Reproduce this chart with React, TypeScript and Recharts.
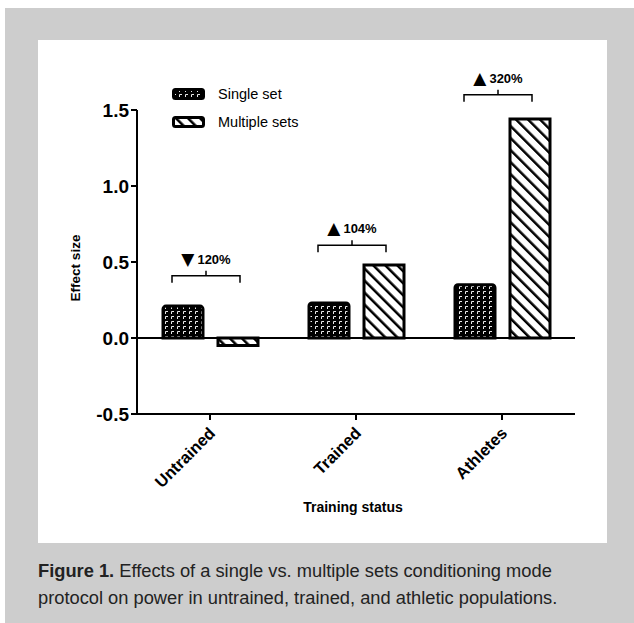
import React from 'react';
import { BarChart, Bar, XAxis, YAxis, ReferenceLine, ReferenceDot, Label } from 'recharts';

const categories = ['Untrained', 'Trained', 'Athletes'];
const singleSet = [0.21, 0.23, 0.35];
const multipleSets = [-0.05, 0.48, 1.44];
const seriesNames = ['Single set', 'Multiple sets'];
const yTicks = [-0.5, 0, 0.5, 1.0, 1.5];
const changeArrows = ['▼', '▲', '▲'];
const changeLabels = ['120%', '104%', '320%'];
const bracketLevels = [0.41, 0.61, 1.6];
const xAxisTitle = 'Training status';
const yAxisTitle = 'Effect size';
const captionBold = 'Figure 1.';
const captionLines = [
  ' Effects of a single vs. multiple sets conditioning mode',
  'protocol on power in untrained, trained, and athletic populations.',
];

const data = categories.map((c, i) => ({ category: c, single: singleSet[i], multiple: multipleSets[i] }));

const FONT = '"Liberation Sans", Arial, Helvetica, sans-serif';

const PatternDefs = ({ prefix }: { prefix: string }) => (
  <defs>
    <pattern id={`${prefix}-dots`} width={6} height={5} patternUnits="userSpaceOnUse">
      <rect width={6} height={5} fill="#000" />
      <path d="M1.5,4 V1.5 H4" stroke="#e8e8e8" strokeWidth={1} fill="none" />
    </pattern>
    <pattern id={`${prefix}-hatch`} width={8.5} height={8.5} patternUnits="userSpaceOnUse" patternTransform="rotate(-45)">
      <rect width={8.5} height={8.5} fill="#fff" />
      <line x1={0} y1={0} x2={0} y2={8.5} stroke="#000" strokeWidth={5} />
    </pattern>
  </defs>
);

const Bracket = ({ cx, cy, arrow, text }: any) => {
  if (cx == null || cy == null) return null;
  const x = cx - 4;
  return (
    <g>
      <path
        d={`M${x - 34},${cy + 7} V${cy} H${x + 34} V${cy + 7} M${x},${cy} V${cy - 5}`}
        stroke="#000"
        strokeWidth={1.5}
        fill="none"
      />
      <text
        x={x}
        y={cy - 17}
        textAnchor="middle"
        dominantBaseline="central"
        fontSize={13}
        fontWeight="bold"
        fontFamily={FONT}
        fill="#000"
      >
        <tspan fontSize={17} fontFamily='"DejaVu Sans", sans-serif'>{arrow}</tspan>
        <tspan dx={3}>{text}</tspan>
      </text>
    </g>
  );
};

const XTick = ({ x, y, payload }: any) => (
  <text
    x={x + 2}
    y={y + 8}
    transform={`rotate(-45, ${x + 2}, ${y + 8})`}
    textAnchor="end"
    dominantBaseline="central"
    fontSize={16.5}
    fontWeight="bold"
    fontFamily={FONT}
    fill="#000"
  >
    {payload.value}
  </text>
);

const LegendSwatch = ({ fill }: { fill: string }) => (
  <svg width={33} height={12} style={{ display: 'block' }}>
    <PatternDefs prefix="lg" />
    <rect x={1.5} y={1.5} width={30} height={9} rx={2} fill={fill} stroke="#000" strokeWidth={3} />
  </svg>
);

export default function App() {
  return (
    <div style={{ position: 'absolute', left: 0, top: 0, width: 634, height: 623, background: '#fff', overflow: 'hidden' }}>
      <div style={{ position: 'absolute', left: 5, top: 8, right: 0, bottom: 0, background: '#cdcdcd' }} />
      <div style={{ position: 'absolute', left: 38, top: 40, width: 569, height: 503, background: '#fff' }}>
        <BarChart
          width={569}
          height={503}
          data={data}
          margin={{ top: 70, right: 32, left: 10, bottom: 29 }}
          barSize={40}
          barGap={15}
        >
          <PatternDefs prefix="ch" />
          <XAxis
            dataKey="category"
            height={100}
            tick={<XTick />}
            tickLine={{ stroke: '#000', strokeWidth: 2 }}
            tickSize={6}
            axisLine={{ stroke: '#000', strokeWidth: 2 }}
            interval={0}
          >
            <Label
              content={({ viewBox }: any) => (
                <text
                  x={viewBox.x + viewBox.width / 2 - 3}
                  y={viewBox.y + 93}
                  textAnchor="middle"
                  dominantBaseline="central"
                  fontSize={14}
                  fontWeight="bold"
                  fontFamily={FONT}
                  fill="#000"
                >
                  {xAxisTitle}
                </text>
              )}
            />
          </XAxis>
          <YAxis
            width={89}
            domain={[-0.5, 1.5]}
            ticks={yTicks}
            tickFormatter={(v: number) => v.toFixed(1)}
            tick={{ fill: '#000', fontSize: 19, fontWeight: 'bold', fontFamily: FONT }}
            tickLine={{ stroke: '#000', strokeWidth: 2 }}
            tickSize={6}
            axisLine={{ stroke: '#000', strokeWidth: 2 }}
            allowDataOverflow
          >
            <Label
              content={({ viewBox }: any) => {
                const cx = viewBox.x + 27;
                const cy = viewBox.y + viewBox.height / 2 + 6;
                return (
                  <text
                    x={cx}
                    y={cy}
                    transform={`rotate(-90, ${cx}, ${cy})`}
                    textAnchor="middle"
                    dominantBaseline="central"
                    fontSize={13.5}
                    fontWeight="bold"
                    fontFamily={FONT}
                    fill="#000"
                  >
                    {yAxisTitle}
                  </text>
                );
              }}
            />
          </YAxis>
          <ReferenceLine y={0} stroke="#000" strokeWidth={2} />
          <Bar
            dataKey="single"
            name={seriesNames[0]}
            fill="url(#ch-dots)"
            stroke="#000"
            strokeWidth={3}
            radius={[3, 3, 0, 0]}
            isAnimationActive={false}
          />
          <Bar
            dataKey="multiple"
            name={seriesNames[1]}
            fill="url(#ch-hatch)"
            stroke="#000"
            strokeWidth={3}
            isAnimationActive={false}
          />
          {categories.map((c, i) => (
            <ReferenceDot
              key={c}
              x={c}
              y={bracketLevels[i]}
              r={0}
              ifOverflow="visible"
              shape={(p: any) => <Bracket cx={p.cx} cy={p.cy} arrow={changeArrows[i]} text={changeLabels[i]} />}
            />
          ))}
        </BarChart>
        <div style={{ position: 'absolute', left: 134, top: 48, fontFamily: FONT, fontSize: 14.5, color: '#000' }}>
          {seriesNames.map((n, i) => (
            <div key={n} style={{ display: 'flex', alignItems: 'center', height: 28, marginTop: i === 0 ? -8 : 0 }}>
              <LegendSwatch fill={i === 0 ? 'url(#lg-dots)' : 'url(#lg-hatch)'} />
              <span style={{ marginLeft: 13 }}>{n}</span>
            </div>
          ))}
        </div>
      </div>
      <div
        style={{
          position: 'absolute',
          left: 38,
          top: 557,
          fontFamily: FONT,
          fontSize: 18.3,
          lineHeight: '27px',
          color: '#222',
          whiteSpace: 'nowrap',
        }}
      >
        <b>{captionBold}</b>
        {captionLines[0]}
        <br />
        {captionLines[1]}
      </div>
    </div>
  );
}
